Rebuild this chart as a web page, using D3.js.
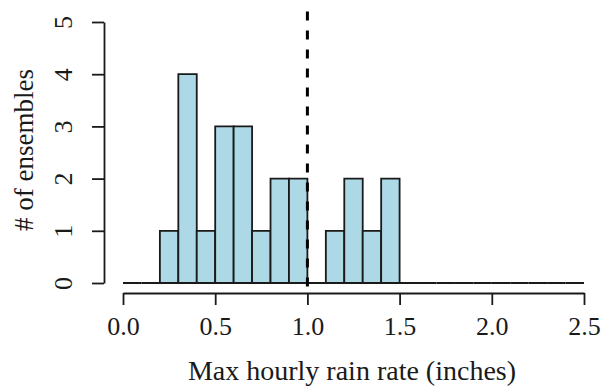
<!DOCTYPE html>
<html>
<head>
<meta charset="utf-8">
<script src="https://cdn.jsdelivr.net/npm/d3@7"></script>
<style>
  body { margin: 0; background: #fff; }
  text { font-family: "Liberation Serif", serif; fill: #1a1a1a; }
</style>
</head>
<body>
<div id="chart"></div>
<script>
// histogram bins of width 0.1 from 0.0 to 2.5
const binStarts = d3.range(0, 25).map(i => i / 10);
const counts = [0, 0, 1, 4, 1, 3, 3, 1, 2, 2, 0, 1, 2, 1, 2, 0, 0, 0, 0, 0, 0, 0, 0, 0, 0];
const binWidth = 0.1;
const xTicks = [0, 0.5, 1.0, 1.5, 2.0, 2.5];
const yTicks = [0, 1, 2, 3, 4, 5];
const threshold = 1.0;

const width = 602, height = 386;

const svg = d3.select('#chart').append('svg')
    .attr('width', width)
    .attr('height', height);

const x = d3.scaleLinear().domain([0, 2.5]).range([123, 584]);
const y = d3.scaleLinear().domain([0, 5]).range([283, 22]);

// bars (zero-count bins come out as a flat line on the baseline)
svg.append('g')
    .selectAll('path')
    .data(binStarts)
    .join('path')
    .attr('d', (d, i) => {
        const p = d3.path();
        p.rect(x(d), y(counts[i]), x(d + binWidth) - x(d), y(0) - y(counts[i]));
        return p.toString();
    })
    .attr('fill', '#add8e6')
    .attr('stroke', '#1a1a1a')
    .attr('stroke-width', 1.8);

// x axis
const xAxis = svg.append('g')
    .attr('transform', 'translate(0,293)')
    .call(d3.axisBottom(x).tickValues(xTicks).tickFormat(d3.format('.1f'))
        .tickSize(12).tickSizeOuter(0));
xAxis.select('.domain').attr('stroke', '#1a1a1a').attr('stroke-width', 1.8);
xAxis.selectAll('.tick line').attr('stroke', '#1a1a1a').attr('stroke-width', 1.8);
xAxis.selectAll('.tick text')
    .attr('y', 42).attr('dy', null)
    .style('font-size', '26px')
    .style('font-family', '"Liberation Serif", serif')
    .attr('fill', '#1a1a1a');

// y axis
const yAxis = svg.append('g')
    .attr('transform', 'translate(104,0)')
    .call(d3.axisLeft(y).tickValues(yTicks).tickFormat(d3.format('d'))
        .tickSize(12).tickSizeOuter(0));
yAxis.select('.domain').attr('stroke', '#1a1a1a').attr('stroke-width', 1.8);
yAxis.selectAll('.tick line').attr('stroke', '#1a1a1a').attr('stroke-width', 1.8);
yAxis.selectAll('.tick text')
    .attr('x', null).attr('dy', null)
    .attr('text-anchor', 'middle')
    .attr('transform', 'translate(-32,0) rotate(-90)')
    .style('font-size', '26px')
    .style('font-family', '"Liberation Serif", serif')
    .attr('fill', '#1a1a1a');

// dashed reference line
svg.append('line')
    .attr('x1', x(threshold)).attr('x2', x(threshold))
    .attr('y1', y(5.2)).attr('y2', y(-0.2))
    .attr('stroke', '#000')
    .attr('stroke-width', 3)
    .attr('stroke-dasharray', '9,10');

// axis titles
svg.append('text')
    .attr('x', 352).attr('y', 380)
    .attr('text-anchor', 'middle')
    .style('font-size', '28px')
    .text('Max hourly rain rate (inches)');

svg.append('text')
    .attr('transform', 'translate(33,150) rotate(-90)')
    .attr('text-anchor', 'middle')
    .style('font-size', '27px')
    .text('# of ensembles');
</script>
</body>
</html>
